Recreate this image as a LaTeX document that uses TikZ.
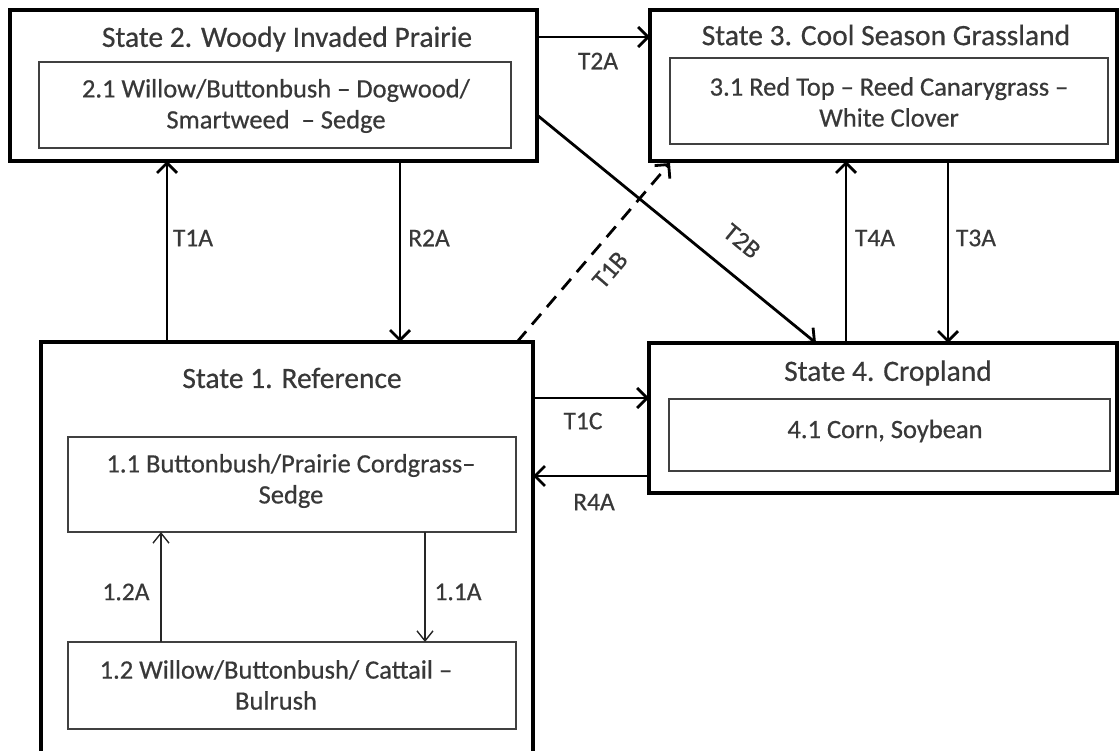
\documentclass[tikz,border=0pt]{standalone}
\usepackage{fontspec}
\setmainfont{Carlito}[FakeBold=0.5]
\usetikzlibrary{arrows.meta,calc}
\definecolor{txt}{HTML}{383838}
\tikzset{
  outerbox/.style={draw=black,line width=3.2pt,rectangle,inner sep=0pt,outer sep=0pt,fill=none},
  innerbox/.style={draw=black!75,line width=1.8pt,rectangle,inner sep=0pt,outer sep=0pt},
  titletxt/.style={text=txt,font=\fontsize{29.5}{34}\selectfont,inner sep=0pt},
  intxt/.style={text=txt,font=\fontsize{26.5}{31}\selectfont,align=center,inner sep=0pt},
  lbl/.style={text=txt,font=\fontsize{25.5}{30}\selectfont,inner sep=0pt},
  arr/.style={line width=2.8pt,-{Straight Barb[length=10pt,width=20pt]}},
  thinarr/.style={line width=1.4pt,draw=black!85,-{Straight Barb[length=10pt,width=16pt]}},
}
\begin{document}
\begin{tikzpicture}[x=1pt,y=-1pt]
\useasboundingbox (0,0) rectangle (1119,751);
\clip (0,0) rectangle (1119,751);
\fill[white] (0,0) rectangle (1119,751);
% state boxes
\node[outerbox,minimum width=527pt,minimum height=151pt] (s2) at (273.5,85.5) {};
\node[outerbox,minimum width=467pt,minimum height=151pt] (s3) at (883.5,85.5) {};
\node[outerbox,minimum width=492pt,minimum height=438pt] (s1) at (287,561) {};
\node[outerbox,minimum width=468pt,minimum height=150pt] (s4) at (883,418) {};
% titles
\node[titletxt] (t2) at (287,39) {State 2. Woody Invaded Prairie};
\node[titletxt] (t3) at (886,35) {State 3. Cool Season Grassland};
\node[titletxt] (t1) at (292,378) {State 1. Reference};
\node[titletxt] (t4) at (888,373) {State 4. Cropland};
% inner boxes
\node[innerbox,minimum width=472pt,minimum height=86pt] (i2) at (275,105) {};
\node[innerbox,minimum width=438pt,minimum height=86pt] (i3) at (889,101) {};
\node[innerbox,minimum width=448pt,minimum height=95pt] (i11) at (292,484.5) {};
\node[innerbox,minimum width=448pt,minimum height=87pt] (i12) at (292,685.5) {};
\node[innerbox,minimum width=441pt,minimum height=72pt] (i4) at (889.5,435) {};
% inner texts
\node[intxt] (x2) at (276,106) {2.1 Willow/Buttonbush -- Dogwood/\\Smartweed \ -- Sedge};
\node[intxt] (x3) at (889,102) {3.1 Red Top -- Reed Canarygrass --\\White Clover};
\node[intxt] (x11) at (291,481) {1.1 Buttonbush/Prairie Cordgrass--\\Sedge};
\node[intxt] (x12) at (276,685) {1.2 Willow/Buttonbush/ Cattail --\\Bulrush};
\node[intxt] (x4) at (885,431) {4.1 Corn, Soybean};
% helper coordinates on borders
\coordinate (a1) at ([xshift=-120pt]s1.north);
\coordinate (a2) at ([xshift=126.5pt]s2.south);
\coordinate (a3) at ([yshift=48.5pt]s2.east);
\coordinate (a4) at ([yshift=-29.5pt]s2.east);
\coordinate (a5) at ([xshift=-67pt]s4.north);
\coordinate (a6) at ([xshift=230pt]s1.north);
\coordinate (a7) at ([xshift=-213.5pt,yshift=-2pt]s3.south);
\coordinate (a8) at ([xshift=-37pt]s4.north);
\coordinate (a9) at ([xshift=64.5pt]s3.south);
\coordinate (a10) at ([yshift=20pt]s4.west);
\coordinate (a11) at ([yshift=-58pt]s4.west);
\coordinate (a12) at ([xshift=-131pt]i12.north);
\coordinate (a13) at ([xshift=133pt]i11.south);
% connectors
\draw[arr] (a1) -- (a1 |- s2.south);
\node[lbl] (l1) at (193,238) {T1A};
\draw[arr] (a2) -- (a2 |- s1.north);
\node[lbl] (l2) at (429,238) {R2A};
\draw[arr] (a3) -- (a3 -| s3.west);
\node[lbl] (l3) at (598,61) {T2A};
\draw[arr] (a4) -- (a5);
\node[lbl,rotate=-39.4] (l4) at (742,241) {T2B};
\draw[arr,dash pattern=on 14pt off 9pt] (a6) -- (a7);
\node[lbl,rotate=49.4] (l5) at (610,270) {T1B};
\draw[arr] (a8) -- (a8 |- s3.south);
\node[lbl] (l6) at (875,238) {T4A};
\draw[arr] (a9) -- (a9 |- s4.north);
\node[lbl] (l7) at (976,238) {T3A};
\draw[arr] (a10 -| s1.east) -- (a10);
\node[lbl] (l8) at (583,421) {T1C};
\draw[arr] (a11) -- (a11 -| s1.east);
\node[lbl] (l9) at (594,502) {R4A};
\draw[thinarr] (a12) -- (a12 |- i11.south);
\node[lbl] (l10) at (126,592) {1.2A};
\draw[thinarr] (a13) -- (a13 |- i12.north);
\node[lbl] (l11) at (458,592) {1.1A};
\end{tikzpicture}
\end{document}
